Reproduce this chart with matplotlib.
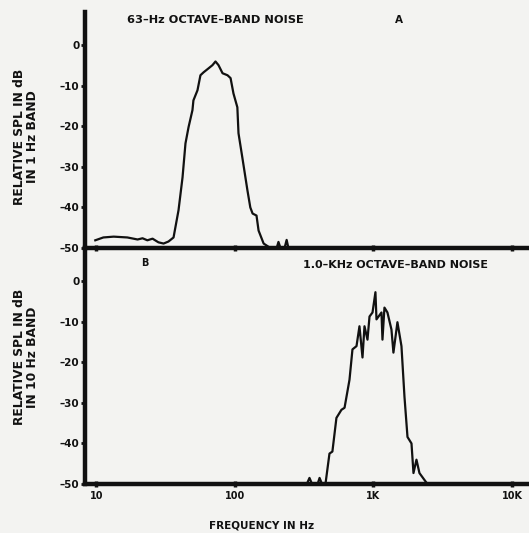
import matplotlib
matplotlib.use("Agg")
import matplotlib.pyplot as plt
import numpy as np

# 63 Hz octave-band noise, 1 Hz band (panel A)
freq_a = [9.8, 11.2, 13.3, 16.7, 19.8, 21.5, 23.3, 25.4, 28.0, 30.5, 33.1, 36.0,
          39.1, 41.8, 43.9, 46.2, 49.3, 50.1, 53.6, 56.3, 59.2, 64.4, 68.8, 72.3,
          76.0, 81.3, 88.3, 92.9, 97.5, 104, 106, 113, 123, 129, 134, 143, 148,
          161, 180, 200, 206, 213, 228, 236, 243, 260]
spl_a = [-48.1, -47.4, -47.2, -47.4, -47.9, -47.6, -48.1, -47.7, -48.6, -48.9, -48.4, -47.4,
         -40.7, -32.6, -24.2, -20.2, -16.0, -13.6, -11.1, -7.4, -6.7, -5.7, -4.9, -4.0,
         -4.9, -6.9, -7.4, -8.1, -11.9, -15.3, -21.7, -27.7, -35.8, -40.0, -41.5, -42.0, -45.7,
         -48.9, -50, -50, -48.5, -50, -50, -48.0, -50, -50]

# 1.0 kHz octave-band noise, 10 Hz band (panel B)
freq_b = [330, 345, 360, 395, 408, 425, 450, 481, 505, 540, 587, 618, 671, 705, 754,
          792, 833, 861, 905, 936, 984, 1033, 1051, 1142, 1161, 1200, 1261, 1348, 1393,
          1489, 1592, 1674, 1760, 1881, 1944, 2043, 2147, 2333, 2453]
spl_b = [-50, -48.5, -50, -50, -48.5, -50, -50, -42.5, -42.0, -33.7, -31.7, -31.2, -24.3, -16.8, -16.0,
         -11.1, -18.8, -11.1, -14.4, -8.7, -7.7, -2.7, -9.4, -7.7, -14.4, -6.5, -7.7, -11.9, -17.6,
         -10.1, -16.0, -28.5, -38.4, -40.0, -47.3, -44.0, -47.3, -49.0, -50]

yticks = [0, -10, -20, -30, -40, -50]
ytick_labels = ["0", "–10", "–20", "–30", "–40", "–50"]
xticks = [10, 100, 1000, 10000]
xtick_labels = ["10", "100", "1K", "10K"]

bg = "#f3f3f1"
ink = "#111111"
W, H = 529, 533

fig = plt.figure(figsize=(W / 100, H / 100), dpi=100, facecolor=bg)
left = 85 / W
ax_a = fig.add_axes([left, 1 - 248 / H, 1 - left, 236 / H])
ax_b = fig.add_axes([left, 1 - 484 / H, 1 - left, 236 / H])

for ax, f, s in [(ax_a, freq_a, spl_a), (ax_b, freq_b, spl_b)]:
    ax.set_facecolor("none")
    ax.plot(f, s, color=ink, lw=1.6, solid_joinstyle="round")
    ax.set_xscale("log")
    ax.set_xlim(8.26, 13270)
    ax.set_ylim(-50, 8.2)
    for sp in ["top", "right"]:
        ax.spines[sp].set_visible(False)
    for sp in ["left", "bottom"]:
        ax.spines[sp].set_linewidth(3.2)
        ax.spines[sp].set_color(ink)
    ax.set_yticks(yticks)
    ax.set_yticklabels(ytick_labels, fontsize=7.5, fontweight="heavy", color=ink)
    ax.set_xticks(xticks)
    ax.xaxis.set_minor_locator(matplotlib.ticker.NullLocator())
    ax.tick_params(axis="y", direction="out", length=3, width=2, pad=1, colors=ink)
    ax.tick_params(axis="x", direction="inout", length=4, width=2.5, colors=ink)

ax_a.set_xticklabels([])
ax_b.set_xticklabels(xtick_labels, fontsize=7, fontweight="heavy", color=ink)
ax_b.tick_params(axis="x", pad=3)

fkw = dict(fontweight="heavy", color=ink)
fig.text(127 / W, 1 - 20 / H, "63–Hz OCTAVE–BAND NOISE", fontsize=8.2, va="center", **fkw)
fig.text(395 / W, 1 - 20 / H, "A", fontsize=7.5, va="center", **fkw)
fig.text(141 / W, 1 - 263 / H, "B", fontsize=7, va="center", **fkw)
fig.text(303 / W, 1 - 265 / H, "1.0–KHz OCTAVE–BAND NOISE", fontsize=8.0, va="center", **fkw)

fig.text(26 / W, 1 - 137 / H, "RELATIVE SPL IN dB\nIN 1 Hz BAND", rotation=90,
         fontsize=8.8, ha="center", va="center", linespacing=1.0, multialignment="center", **fkw)
fig.text(26 / W, 1 - 357 / H, "RELATIVE SPL IN dB\nIN 10 Hz BAND", rotation=90,
         fontsize=8.8, ha="center", va="center", linespacing=1.0, multialignment="center", **fkw)
fig.text(262 / W, 1 - 526 / H, "FREQUENCY IN Hz", fontsize=7.5, ha="center", va="center", **fkw)

fig.savefig("out.png", dpi=100, facecolor=bg)
